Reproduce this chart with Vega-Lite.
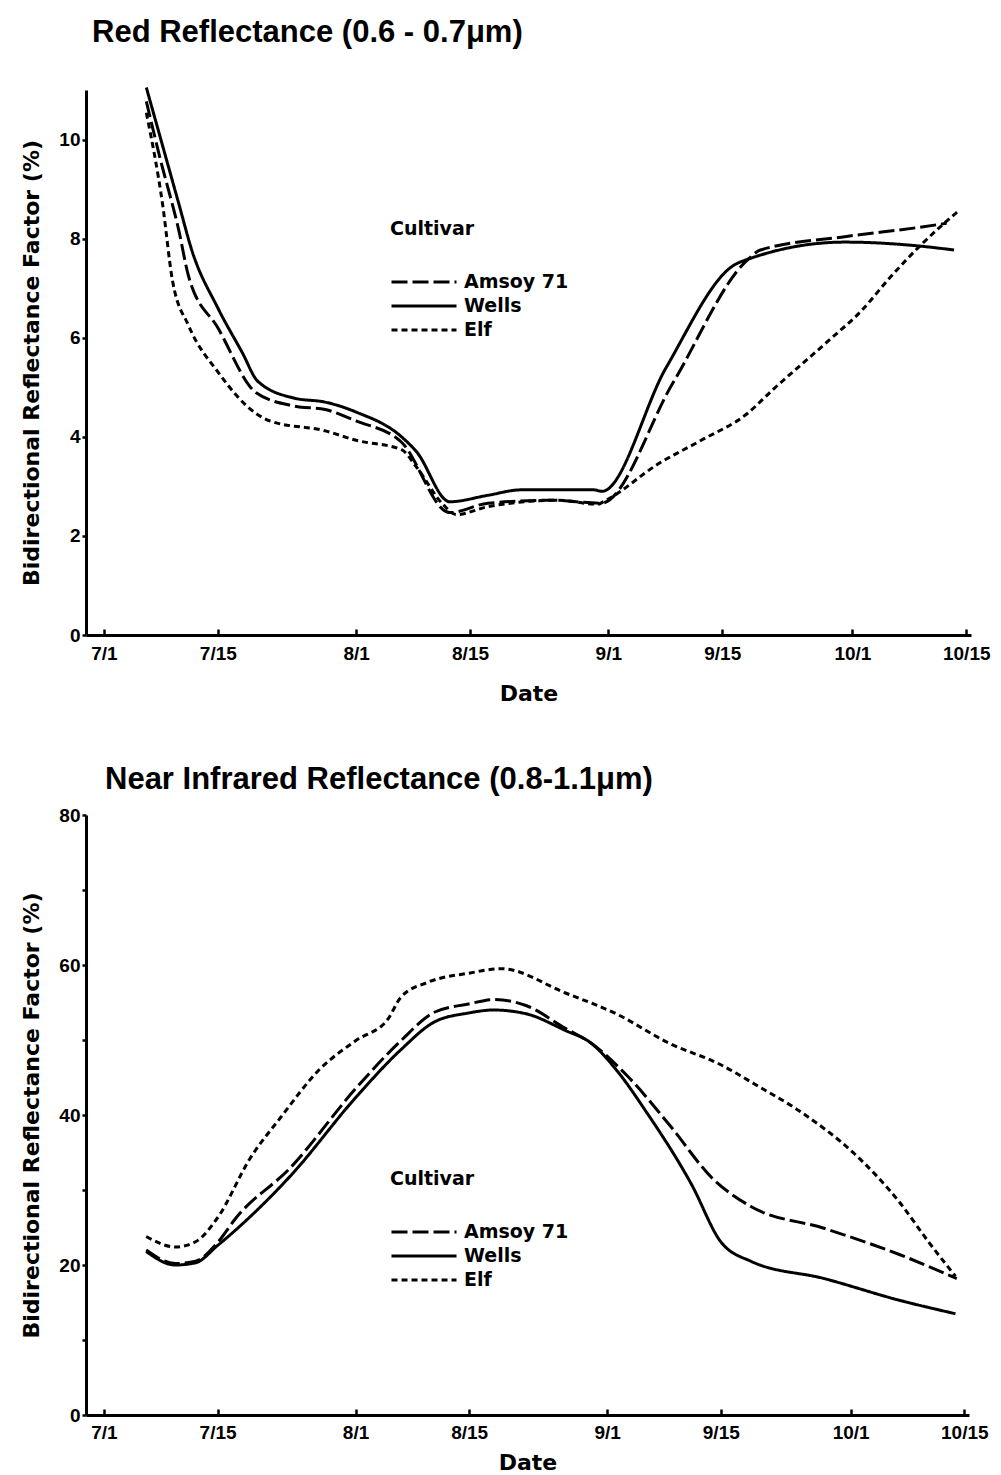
{
  "$schema": "https://vega.github.io/schema/vega-lite/v6.json",
  "background": "white",
  "padding": {"left": 20, "top": 16, "right": 5, "bottom": 0},
  "config": {
    "font": "Liberation Sans",
    "view": {"stroke": null},
    "axis": {
      "grid": false,
      "domainColor": "black",
      "domainWidth": 3,
      "tickColor": "black",
      "tickWidth": 2.5,
      "labelFont": "Liberation Sans",
      "labelFontWeight": "bold",
      "labelFontSize": 19,
      "labelColor": "black",
      "titleFont": "DejaVu Sans",
      "titleFontWeight": "bold",
      "titleFontSize": 22,
      "titleColor": "black"
    },
    "title": {"font": "Liberation Sans", "fontSize": 31, "fontWeight": "bold", "anchor": "start", "color": "black", "frame": "group"},
    "legend": {
      "orient": "none",
      "symbolType": "M-4,0H4",
      "symbolSize": 264,
      "symbolOffset": 24,
      "symbolStrokeWidth": 3,
      "symbolStrokeColor": "black",
      "labelFont": "DejaVu Sans",
      "labelFontWeight": "bold",
      "labelFontSize": 19,
      "labelColor": "black",
      "titleFont": "DejaVu Sans",
      "titleFontWeight": "bold",
      "titleFontSize": 19,
      "titleColor": "black",
      "titlePadding": 33,
      "labelOffset": 30,
      "rowPadding": 4
    },
    "concat": {"spacing": 60}
  },
  "datasets": {
    "red": [
      {"cultivar": "Wells", "date": "1980-07-06T05:00", "value": 11.05},
      {"cultivar": "Wells", "date": "1980-07-10T05:00", "value": 8.7},
      {"cultivar": "Wells", "date": "1980-07-11T19:00", "value": 7.77},
      {"cultivar": "Wells", "date": "1980-07-15T00:00", "value": 6.6},
      {"cultivar": "Wells", "date": "1980-07-18T00:00", "value": 5.7},
      {"cultivar": "Wells", "date": "1980-07-19T22:00", "value": 5.12},
      {"cultivar": "Wells", "date": "1980-07-24T10:00", "value": 4.78},
      {"cultivar": "Wells", "date": "1980-07-28T05:00", "value": 4.7},
      {"cultivar": "Wells", "date": "1980-08-01T00:00", "value": 4.5},
      {"cultivar": "Wells", "date": "1980-08-06T14:00", "value": 4.0},
      {"cultivar": "Wells", "date": "1980-08-08T10:00", "value": 3.7},
      {"cultivar": "Wells", "date": "1980-08-12T12:00", "value": 2.69},
      {"cultivar": "Wells", "date": "1980-08-17T05:00", "value": 2.82},
      {"cultivar": "Wells", "date": "1980-08-21T07:00", "value": 2.93},
      {"cultivar": "Wells", "date": "1980-08-30T05:00", "value": 2.93},
      {"cultivar": "Wells", "date": "1980-08-31T05:00", "value": 2.9},
      {"cultivar": "Wells", "date": "1980-09-08T02:00", "value": 5.39},
      {"cultivar": "Wells", "date": "1980-09-16T12:00", "value": 7.47},
      {"cultivar": "Wells", "date": "1980-09-18T02:00", "value": 7.58},
      {"cultivar": "Wells", "date": "1980-09-30T02:00", "value": 7.93},
      {"cultivar": "Wells", "date": "1980-10-09T07:00", "value": 7.85},
      {"cultivar": "Wells", "date": "1980-10-13T12:00", "value": 7.77},
      {"cultivar": "Amsoy 71", "date": "1980-07-06T05:00", "value": 10.77},
      {"cultivar": "Amsoy 71", "date": "1980-07-07T19:00", "value": 9.69},
      {"cultivar": "Amsoy 71", "date": "1980-07-10T05:00", "value": 8.16},
      {"cultivar": "Amsoy 71", "date": "1980-07-11T10:00", "value": 7.23},
      {"cultivar": "Amsoy 71", "date": "1980-07-15T00:00", "value": 6.2},
      {"cultivar": "Amsoy 71", "date": "1980-07-19T17:00", "value": 4.89},
      {"cultivar": "Amsoy 71", "date": "1980-07-24T10:00", "value": 4.62},
      {"cultivar": "Amsoy 71", "date": "1980-07-28T05:00", "value": 4.55},
      {"cultivar": "Amsoy 71", "date": "1980-08-01T00:00", "value": 4.32},
      {"cultivar": "Amsoy 71", "date": "1980-08-06T14:00", "value": 3.89},
      {"cultivar": "Amsoy 71", "date": "1980-08-12T12:00", "value": 2.47},
      {"cultivar": "Amsoy 71", "date": "1980-08-17T05:00", "value": 2.66},
      {"cultivar": "Amsoy 71", "date": "1980-08-25T00:00", "value": 2.72},
      {"cultivar": "Amsoy 71", "date": "1980-08-31T02:00", "value": 2.66},
      {"cultivar": "Amsoy 71", "date": "1980-09-08T22:00", "value": 5.08},
      {"cultivar": "Amsoy 71", "date": "1980-09-17T22:00", "value": 7.54},
      {"cultivar": "Amsoy 71", "date": "1980-09-19T17:00", "value": 7.77},
      {"cultivar": "Amsoy 71", "date": "1980-09-30T02:00", "value": 8.04},
      {"cultivar": "Amsoy 71", "date": "1980-10-09T07:00", "value": 8.23},
      {"cultivar": "Amsoy 71", "date": "1980-10-12T14:00", "value": 8.31},
      {"cultivar": "Elf", "date": "1980-07-06T05:00", "value": 10.54},
      {"cultivar": "Elf", "date": "1980-07-08T05:00", "value": 8.69},
      {"cultivar": "Elf", "date": "1980-07-09T10:00", "value": 7.16},
      {"cultivar": "Elf", "date": "1980-07-11T10:00", "value": 6.24},
      {"cultivar": "Elf", "date": "1980-07-15T00:00", "value": 5.31},
      {"cultivar": "Elf", "date": "1980-07-19T17:00", "value": 4.47},
      {"cultivar": "Elf", "date": "1980-07-21T10:00", "value": 4.32},
      {"cultivar": "Elf", "date": "1980-07-28T05:00", "value": 4.12},
      {"cultivar": "Elf", "date": "1980-08-01T00:00", "value": 3.93},
      {"cultivar": "Elf", "date": "1980-08-06T14:00", "value": 3.74},
      {"cultivar": "Elf", "date": "1980-08-08T10:00", "value": 3.39},
      {"cultivar": "Elf", "date": "1980-08-11T17:00", "value": 2.63},
      {"cultivar": "Elf", "date": "1980-08-13T07:00", "value": 2.43},
      {"cultivar": "Elf", "date": "1980-08-17T05:00", "value": 2.59},
      {"cultivar": "Elf", "date": "1980-08-25T17:00", "value": 2.72},
      {"cultivar": "Elf", "date": "1980-08-30T17:00", "value": 2.64},
      {"cultivar": "Elf", "date": "1980-08-31T12:00", "value": 2.7},
      {"cultivar": "Elf", "date": "1980-09-07T07:00", "value": 3.47},
      {"cultivar": "Elf", "date": "1980-09-12T10:00", "value": 3.93},
      {"cultivar": "Elf", "date": "1980-09-18T02:00", "value": 4.47},
      {"cultivar": "Elf", "date": "1980-09-21T02:00", "value": 4.93},
      {"cultivar": "Elf", "date": "1980-09-28T00:00", "value": 5.93},
      {"cultivar": "Elf", "date": "1980-10-02T02:00", "value": 6.54},
      {"cultivar": "Elf", "date": "1980-10-05T17:00", "value": 7.23},
      {"cultivar": "Elf", "date": "1980-10-09T07:00", "value": 7.85},
      {"cultivar": "Elf", "date": "1980-10-12T07:00", "value": 8.31},
      {"cultivar": "Elf", "date": "1980-10-14T05:00", "value": 8.58}
    ],
    "nir": [
      {"cultivar": "Wells", "date": "1980-07-06T05:00", "value": 21.8},
      {"cultivar": "Wells", "date": "1980-07-09T19:00", "value": 20.0},
      {"cultivar": "Wells", "date": "1980-07-12T07:00", "value": 20.3},
      {"cultivar": "Wells", "date": "1980-07-15T00:00", "value": 22.6},
      {"cultivar": "Wells", "date": "1980-07-24T00:00", "value": 31.9},
      {"cultivar": "Wells", "date": "1980-08-01T00:00", "value": 42.3},
      {"cultivar": "Wells", "date": "1980-08-06T14:00", "value": 48.7},
      {"cultivar": "Wells", "date": "1980-08-10T17:00", "value": 52.4},
      {"cultivar": "Wells", "date": "1980-08-14T22:00", "value": 53.6},
      {"cultivar": "Wells", "date": "1980-08-18T00:00", "value": 54.0},
      {"cultivar": "Wells", "date": "1980-08-22T00:00", "value": 53.5},
      {"cultivar": "Wells", "date": "1980-08-26T19:00", "value": 51.3},
      {"cultivar": "Wells", "date": "1980-08-30T00:00", "value": 49.6},
      {"cultivar": "Wells", "date": "1980-09-02T07:00", "value": 45.8},
      {"cultivar": "Wells", "date": "1980-09-05T17:00", "value": 40.6},
      {"cultivar": "Wells", "date": "1980-09-11T10:00", "value": 30.7},
      {"cultivar": "Wells", "date": "1980-09-15T00:00", "value": 23.1},
      {"cultivar": "Wells", "date": "1980-09-18T17:00", "value": 20.5},
      {"cultivar": "Wells", "date": "1980-09-27T17:00", "value": 18.2},
      {"cultivar": "Wells", "date": "1980-10-07T00:00", "value": 15.3},
      {"cultivar": "Wells", "date": "1980-10-13T22:00", "value": 13.5},
      {"cultivar": "Amsoy 71", "date": "1980-07-06T05:00", "value": 22.0},
      {"cultivar": "Amsoy 71", "date": "1980-07-09T19:00", "value": 20.2},
      {"cultivar": "Amsoy 71", "date": "1980-07-12T07:00", "value": 20.5},
      {"cultivar": "Amsoy 71", "date": "1980-07-15T00:00", "value": 23.0},
      {"cultivar": "Amsoy 71", "date": "1980-07-17T07:00", "value": 26.3},
      {"cultivar": "Amsoy 71", "date": "1980-07-24T00:00", "value": 33.0},
      {"cultivar": "Amsoy 71", "date": "1980-08-01T00:00", "value": 43.5},
      {"cultivar": "Amsoy 71", "date": "1980-08-06T14:00", "value": 49.9},
      {"cultivar": "Amsoy 71", "date": "1980-08-10T17:00", "value": 53.7},
      {"cultivar": "Amsoy 71", "date": "1980-08-14T22:00", "value": 54.8},
      {"cultivar": "Amsoy 71", "date": "1980-08-18T00:00", "value": 55.4},
      {"cultivar": "Amsoy 71", "date": "1980-08-22T00:00", "value": 54.6},
      {"cultivar": "Amsoy 71", "date": "1980-08-26T19:00", "value": 51.6},
      {"cultivar": "Amsoy 71", "date": "1980-08-30T00:00", "value": 49.6},
      {"cultivar": "Amsoy 71", "date": "1980-09-03T12:00", "value": 45.2},
      {"cultivar": "Amsoy 71", "date": "1980-09-08T14:00", "value": 38.8},
      {"cultivar": "Amsoy 71", "date": "1980-09-14T05:00", "value": 31.3},
      {"cultivar": "Amsoy 71", "date": "1980-09-18T17:00", "value": 27.8},
      {"cultivar": "Amsoy 71", "date": "1980-09-27T17:00", "value": 24.9},
      {"cultivar": "Amsoy 71", "date": "1980-10-07T00:00", "value": 21.4},
      {"cultivar": "Amsoy 71", "date": "1980-10-14T02:00", "value": 18.2},
      {"cultivar": "Elf", "date": "1980-07-06T05:00", "value": 23.8},
      {"cultivar": "Elf", "date": "1980-07-09T19:00", "value": 22.4},
      {"cultivar": "Elf", "date": "1980-07-12T07:00", "value": 23.1},
      {"cultivar": "Elf", "date": "1980-07-15T00:00", "value": 26.3},
      {"cultivar": "Elf", "date": "1980-07-19T00:00", "value": 34.2},
      {"cultivar": "Elf", "date": "1980-07-22T19:00", "value": 39.7},
      {"cultivar": "Elf", "date": "1980-07-27T14:00", "value": 46.1},
      {"cultivar": "Elf", "date": "1980-08-01T00:00", "value": 49.9},
      {"cultivar": "Elf", "date": "1980-08-05T00:00", "value": 52.8},
      {"cultivar": "Elf", "date": "1980-08-06T14:00", "value": 55.7},
      {"cultivar": "Elf", "date": "1980-08-09T22:00", "value": 57.7},
      {"cultivar": "Elf", "date": "1980-08-14T22:00", "value": 58.9},
      {"cultivar": "Elf", "date": "1980-08-19T00:00", "value": 59.5},
      {"cultivar": "Elf", "date": "1980-08-26T19:00", "value": 56.3},
      {"cultivar": "Elf", "date": "1980-09-02T07:00", "value": 53.4},
      {"cultivar": "Elf", "date": "1980-09-08T14:00", "value": 49.6},
      {"cultivar": "Elf", "date": "1980-09-15T00:00", "value": 46.7},
      {"cultivar": "Elf", "date": "1980-09-19T05:00", "value": 44.1},
      {"cultivar": "Elf", "date": "1980-09-25T10:00", "value": 40.0},
      {"cultivar": "Elf", "date": "1980-10-01T12:00", "value": 34.8},
      {"cultivar": "Elf", "date": "1980-10-07T00:00", "value": 28.4},
      {"cultivar": "Elf", "date": "1980-10-10T14:00", "value": 23.1},
      {"cultivar": "Elf", "date": "1980-10-13T22:00", "value": 18.5}
    ]
  },
  "resolve": {"legend": {"strokeDash": "independent"}},
  "vconcat": [
    {
      "title": {"text": "Red Reflectance (0.6 - 0.7μm)", "offset": 33, "dx": 6},
      "width": 885,
      "height": 545,
      "data": {"name": "red"},
      "mark": {"type": "line", "color": "black", "strokeWidth": 3, "interpolate": "monotone"},
      "encoding": {
        "x": {
          "field": "date", "type": "temporal",
          "scale": {"domain": ["1980-06-28T19:00", "1980-10-15T14:00"]},
          "axis": {
            "title": "Date", "titlePadding": 20, "labelPadding": 15, "format": "%-m/%-d", "tickSize": -6,
            "values": [
              {"year": 1980, "month": 7, "date": 1},
              {"year": 1980, "month": 7, "date": 15},
              {"year": 1980, "month": 8, "date": 1},
              {"year": 1980, "month": 8, "date": 15},
              {"year": 1980, "month": 9, "date": 1},
              {"year": 1980, "month": 9, "date": 15},
              {"year": 1980, "month": 10, "date": 1},
              {"year": 1980, "month": 10, "date": 15}
            ]
          }
        },
        "y": {
          "field": "value", "type": "quantitative",
          "scale": {"domain": [0, 11], "nice": false},
          "axis": {"title": "Bidirectional Reflectance Factor (%)", "values": [0, 2, 4, 6, 8, 10], "tickSize": 4, "titlePadding": 15}
        },
        "strokeDash": {
          "field": "cultivar", "type": "nominal",
          "scale": {"domain": ["Amsoy 71", "Wells", "Elf"], "range": [[16, 5], [1, 0], [6, 4]]},
          "legend": {"title": "Cultivar", "legendX": 304, "legendY": 130}
        }
      }
    },
    {
      "title": {"text": "Near Infrared Reflectance (0.8-1.1μm)", "offset": 10, "dx": 19},
      "width": 883,
      "height": 600,
      "data": {"name": "nir"},
      "mark": {"type": "line", "color": "black", "strokeWidth": 3, "interpolate": "monotone"},
      "encoding": {
        "x": {
          "field": "date", "type": "temporal",
          "scale": {"domain": ["1980-06-28T19:00", "1980-10-15T14:00"]},
          "axis": {
            "title": "Date", "titlePadding": 10, "labelPadding": 14, "format": "%-m/%-d", "tickSize": -6,
            "values": [
              {"year": 1980, "month": 7, "date": 1},
              {"year": 1980, "month": 7, "date": 15},
              {"year": 1980, "month": 8, "date": 1},
              {"year": 1980, "month": 8, "date": 15},
              {"year": 1980, "month": 9, "date": 1},
              {"year": 1980, "month": 9, "date": 15},
              {"year": 1980, "month": 10, "date": 1},
              {"year": 1980, "month": 10, "date": 15}
            ]
          }
        },
        "y": {
          "field": "value", "type": "quantitative",
          "scale": {"domain": [0, 80], "nice": false},
          "axis": {
            "title": "Bidirectional Reflectance Factor (%)",
            "values": [0, 10, 20, 30, 40, 50, 60, 70, 80],
            "labelExpr": "datum.value % 20 === 0 ? datum.label : ''",
            "tickSize": 4, "titlePadding": 15
          }
        },
        "strokeDash": {
          "field": "cultivar", "type": "nominal",
          "scale": {"domain": ["Amsoy 71", "Wells", "Elf"], "range": [[16, 5], [1, 0], [6, 4]]},
          "legend": {"title": "Cultivar", "legendX": 304, "legendY": 355}
        }
      }
    }
  ]
}
